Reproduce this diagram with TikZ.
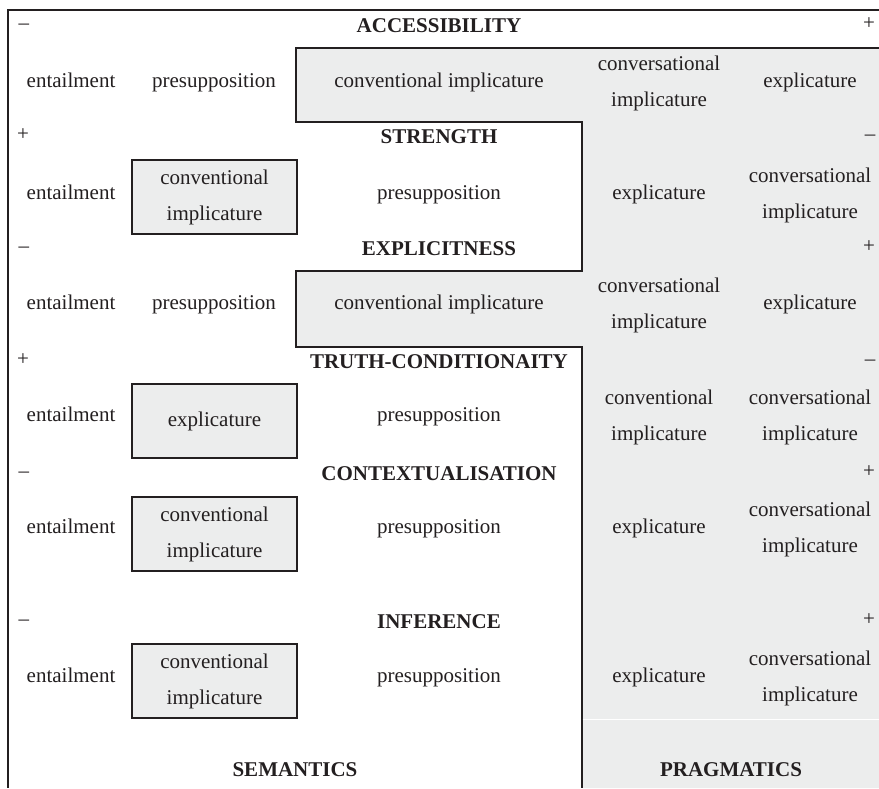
\documentclass[tikz,border=0pt]{standalone}
\usepackage{fontspec}
\setmainfont{Liberation Serif}
\usepackage{xcolor}
\definecolor{pragfill}{RGB}{236,237,237}
\definecolor{ink}{RGB}{35,31,32}

\begin{document}
\begin{tikzpicture}[
  x=1pt, y=-1pt,
  font=\fontsize{21}{36}\selectfont,
  txt/.style={align=center,inner sep=0pt,text=ink},
  cell/.style={txt,execute at begin node=\strut,execute at end node=\strut},
  heading/.style={cell,font=\fontsize{21}{36}\selectfont\bfseries},
  smallbox/.style={txt,draw=ink,line width=1.2pt,fill=pragfill,minimum width=165pt,minimum height=74pt},
  frame/.style={draw=ink,line width=1.2pt}
]
\useasboundingbox (0,0) rectangle (879,788);
% pragmatics side
\fill[pragfill] (296,48) -- (879,48) -- (879,788) -- (582,788) -- (582,347) -- (296,347)
  -- (296,271) -- (582,271) -- (582,122) -- (296,122) -- cycle;
\draw[frame] (879,10) -- (8,10) -- (8,788);
\draw[frame] (879,48) -- (296,48) -- (296,122) -- (582,122) -- (582,271) -- (296,271)
  -- (296,347) -- (582,347) -- (582,788);
\draw[white,line width=1pt] (582.7,719) -- (879,719);

% accessibility
\node[heading] (acc) at (439,25) {ACCESSIBILITY};
\node[cell] (acc-l) at (24,22) {\textendash};
\node[cell] (acc-r) at (869,22) {+};
\node[cell] (ent1) at (71,80) {entailment};
\node[cell] (pre1) at (214,80) {presupposition};
\node[cell] (ci1) at (439,80) {conventional implicature};
\node[cell] (cv1) at (659,87) {conversational\\implicature};
\node[cell] (ex1) at (810,80) {explicature};

% strength
\node[heading] (str) at (439,136) {STRENGTH};
\node[cell] (str-l) at (23,133) {+};
\node[cell] (str-r) at (870,133) {\textendash};
\node[cell] (ent2) at (71,192) {entailment};
\node[smallbox] (ci2) at (214.5,197) {conventional\\implicature};
\node[cell] (pre2) at (439,192) {presupposition};
\node[cell] (ex2) at (659,192) {explicature};
\node[cell] (cv2) at (810,199) {conversational\\implicature};

% explicitness
\node[heading] (expl) at (439,248) {EXPLICITNESS};
\node[cell] (expl-l) at (24,245) {\textendash};
\node[cell] (expl-r) at (869,245) {+};
\node[cell] (ent3) at (71,302) {entailment};
\node[cell] (pre3) at (214,302) {presupposition};
\node[cell] (ci3) at (439,302) {conventional implicature};
\node[cell] (cv3) at (659,309) {conversational\\implicature};
\node[cell] (ex3) at (810,302) {explicature};

% truth-conditionality
\node[heading] (truth) at (439,361) {TRUTH-CONDITIONAITY};
\node[cell] (truth-l) at (23,358) {+};
\node[cell] (truth-r) at (870,358) {\textendash};
\node[cell] (ent4) at (71,414) {entailment};
\node[smallbox] (ex4) at (214.5,421) {explicature};
\node[cell] (pre4) at (439,414) {presupposition};
\node[cell] (ci4) at (659,421) {conventional\\implicature};
\node[cell] (cv4) at (810,421) {conversational\\implicature};

% contextualisation
\node[heading] (ctx) at (439,473) {CONTEXTUALISATION};
\node[cell] (ctx-l) at (24,470) {\textendash};
\node[cell] (ctx-r) at (869,470) {+};
\node[cell] (ent5) at (71,526) {entailment};
\node[smallbox] (ci5) at (214.5,534) {conventional\\implicature};
\node[cell] (pre5) at (439,526) {presupposition};
\node[cell] (ex5) at (659,526) {explicature};
\node[cell] (cv5) at (810,533) {conversational\\implicature};

% inference
\node[heading] (inf) at (439,621) {INFERENCE};
\node[cell] (inf-l) at (24,618) {\textendash};
\node[cell] (inf-r) at (869,618) {+};
\node[cell] (ent6) at (71,675) {entailment};
\node[smallbox] (ci6) at (214.5,681) {conventional\\implicature};
\node[cell] (pre6) at (439,675) {presupposition};
\node[cell] (ex6) at (659,675) {explicature};
\node[cell] (cv6) at (810,682) {conversational\\implicature};

\node[heading] (sem) at (295,769) {SEMANTICS};
\node[heading] (prag) at (731,769) {PRAGMATICS};
\end{tikzpicture}
\end{document}
